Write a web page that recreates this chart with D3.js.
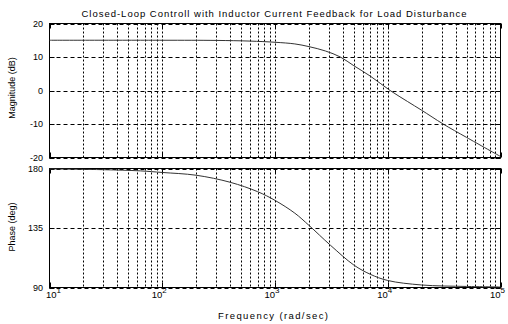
<!DOCTYPE html>
<html>
<head>
<meta charset="utf-8">
<script src="https://cdn.jsdelivr.net/npm/d3@7"></script>
<style>
  html, body { margin: 0; padding: 0; background: #fff; }
  svg { display: block; font-family: "Liberation Sans", Arial, Helvetica, sans-serif; }
</style>
</head>
<body>
<svg id="chart" width="508" height="324"></svg>
<script>
// Bode response of the closed loop (inductor current feedback, load disturbance)
const magFreq = [10, 100, 300, 600, 1000, 1500, 2000, 2800, 3800, 5000, 7000, 10500, 15000, 20000, 31000, 50000, 100000];
const magDb   = [15.0, 15.0, 14.95, 14.75, 14.4, 13.9, 13.1, 11.8, 10.0, 7.4, 4.3, 0.0, -3.3, -5.9, -10.0, -14.0, -19.7];

const phaseFreq = [10, 30, 64, 100, 200, 400, 700, 1000, 1500, 2000, 3100, 5000, 7000, 10000, 20000, 50000, 100000];
const phaseDeg  = [179.7, 179.1, 178.2, 177.0, 174.9, 169.6, 162.5, 155.9, 146.2, 137.0, 122.0, 107.0, 100.0, 95.3, 91.9, 90.8, 90.4];

const magTicks   = [20, 10, 0, -10, -20];
const phaseTicks = [180, 135, 90];
const decadeExps = [1, 2, 3, 4, 5];

const titleText  = "Closed-Loop Controll with Inductor Current Feedback for Load Disturbance";
const xLabelText = "Frequency  (rad/sec)";
const magLabel   = "Magnitude (dB)";
const phaseLabel = "Phase (deg)";

const svg = d3.select("#chart");
const left = 49.5, right = 500.5;
const magTop = 23.5, magBottom = 157.5;
const phTop = 168.5, phBottom = 287.5;

const x = d3.scaleLog().domain([10, 100000]).range([left, right]);
const yMag = d3.scaleLinear().domain([-20, 20]).range([magBottom, magTop]);
const yPh  = d3.scaleLinear().domain([90, 180]).range([phBottom, phTop]);

// grid frequencies: 1..9 times each decade
const gridFreqs = [];
for (let e = 1; e < 5; e++) for (let m = 1; m <= 9; m++) gridFreqs.push(m * Math.pow(10, e));
gridFreqs.push(100000);

function panel(yScale, top, bottom, ticks) {
  const g = svg.append("g");
  // vertical dotted grid
  g.selectAll("line.vg").data(gridFreqs.filter(f => f > 10 && f < 100000)).join("line")
    .attr("x1", d => Math.round(x(d)) + 0.5).attr("x2", d => Math.round(x(d)) + 0.5)
    .attr("y1", top).attr("y2", bottom)
    .attr("stroke", "#000").attr("stroke-width", 1).attr("stroke-dasharray", "2,2");
  // horizontal dashed grid
  g.selectAll("line.hg").data(ticks).join("line")
    .attr("x1", left).attr("x2", right)
    .attr("y1", d => Math.round(yScale(d)) + 0.5).attr("y2", d => Math.round(yScale(d)) + 0.5)
    .attr("stroke", "#000").attr("stroke-width", 1).attr("stroke-dasharray", "4,3");
  // inward tick marks
  const dec = decadeExps.map(e => Math.pow(10, e));
  g.selectAll("line.tb").data(dec).join("line")
    .attr("x1", d => Math.round(x(d)) + 0.5).attr("x2", d => Math.round(x(d)) + 0.5)
    .attr("y1", bottom).attr("y2", bottom - 5).attr("stroke", "#000");
  g.selectAll("line.tt").data(dec).join("line")
    .attr("x1", d => Math.round(x(d)) + 0.5).attr("x2", d => Math.round(x(d)) + 0.5)
    .attr("y1", top).attr("y2", top + 5).attr("stroke", "#000");
  g.selectAll("line.tl").data(ticks).join("line")
    .attr("x1", left).attr("x2", left + 5)
    .attr("y1", d => Math.round(yScale(d)) + 0.5).attr("y2", d => Math.round(yScale(d)) + 0.5)
    .attr("stroke", "#000");
  g.selectAll("line.tr").data(ticks).join("line")
    .attr("x1", right - 5).attr("x2", right)
    .attr("y1", d => Math.round(yScale(d)) + 0.5).attr("y2", d => Math.round(yScale(d)) + 0.5)
    .attr("stroke", "#000");
  // frame
  g.append("rect").attr("x", left).attr("y", top)
    .attr("width", right - left).attr("height", bottom - top)
    .attr("fill", "none").attr("stroke", "#000").attr("stroke-width", 1);
  // y tick labels
  g.selectAll("text.yl").data(ticks).join("text")
    .attr("x", 43).attr("y", d => yScale(d)).attr("dy", "0.35em")
    .attr("text-anchor", "end").attr("font-size", 9).attr("fill", "#000")
    .text(d => d);
  return g;
}

panel(yMag, magTop, magBottom, magTicks);
panel(yPh, phTop, phBottom, phaseTicks);

// response curves
const magLine = d3.line().x(d => x(d[0])).y(d => yMag(d[1])).curve(d3.curveCatmullRom.alpha(0.5));
svg.append("path").datum(magFreq.map((f, i) => [f, magDb[i]]))
  .attr("d", magLine).attr("fill", "none").attr("stroke", "#333").attr("stroke-width", 1);

const phLine = d3.line().x(d => x(d[0])).y(d => yPh(d[1])).curve(d3.curveCatmullRom.alpha(0.5));
svg.append("path").datum(phaseFreq.map((f, i) => [f, phaseDeg[i]]))
  .attr("d", phLine).attr("fill", "none").attr("stroke", "#333").attr("stroke-width", 1);

// x tick labels 10^n
const xl = svg.selectAll("text.xl").data(decadeExps).join("text")
  .attr("x", d => Math.max(x(Math.pow(10, d)) - 3, left + 4))
  .attr("y", 298).attr("text-anchor", "middle").attr("font-size", 9.5).attr("fill", "#000");
xl.append("tspan").text("10");
xl.append("tspan").attr("dy", -5).attr("font-size", 8).text(d => d);

// titles
svg.append("text").attr("x", 274).attr("y", 16.5).attr("text-anchor", "middle")
  .attr("font-size", 9.5).attr("textLength", 385).attr("lengthAdjust", "spacing")
  .text(titleText);
svg.append("text").attr("x", 273).attr("y", 318.5).attr("text-anchor", "middle")
  .attr("font-size", 9.5).attr("textLength", 110).attr("lengthAdjust", "spacing")
  .text(xLabelText);
svg.append("text").attr("transform", "translate(15,88) rotate(-90)")
  .attr("text-anchor", "middle").attr("font-size", 9).text(magLabel);
svg.append("text").attr("transform", "translate(15,227) rotate(-90)")
  .attr("text-anchor", "middle").attr("font-size", 9).text(phaseLabel);
</script>
</body>
</html>
